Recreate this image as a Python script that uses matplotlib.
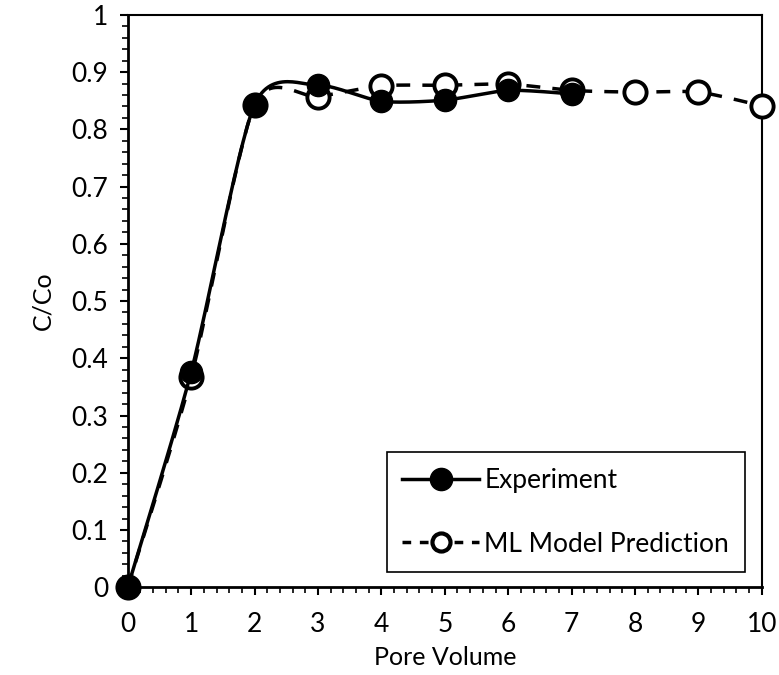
import numpy as np
import matplotlib
matplotlib.use("Agg")
import matplotlib.pyplot as plt
from matplotlib.ticker import MultipleLocator

# data
pv_exp = [0, 1, 2, 3, 4, 5, 6, 7]
c_exp = [0, 0.376, 0.843, 0.877, 0.849, 0.851, 0.868, 0.862]

pv_ml = [0, 1, 2, 3, 4, 5, 6, 7, 8, 9, 10]
c_ml = [0, 0.367, 0.843, 0.857, 0.876, 0.877, 0.879, 0.868, 0.865, 0.865, 0.841]


def smooth(x, y, k=1/8, n=30):
    # excel-like smoothed line (cardinal bezier through the points)
    x = np.asarray(x, float)
    y = np.asarray(y, float)
    xs, ys = [x[0]], [y[0]]
    for i in range(len(x) - 1):
        p0 = np.array([x[max(i - 1, 0)], y[max(i - 1, 0)]])
        p1 = np.array([x[i], y[i]])
        p2 = np.array([x[i + 1], y[i + 1]])
        p3 = np.array([x[min(i + 2, len(x) - 1)], y[min(i + 2, len(x) - 1)]])
        c1 = p1 + (p2 - p0) * k
        c2 = p2 - (p3 - p1) * k
        t = np.linspace(0, 1, n)[1:, None]
        b = ((1 - t) ** 3) * p1 + 3 * ((1 - t) ** 2) * t * c1 + 3 * (1 - t) * t ** 2 * c2 + t ** 3 * p2
        xs.extend(b[:, 0])
        ys.extend(b[:, 1])
    return np.array(xs), np.array(ys)


plt.rcParams['font.family'] = ['Lato', 'DejaVu Sans']

fig = plt.figure(figsize=(7.79, 6.75), dpi=100)
ax = fig.add_axes([0.164, 0.130, 0.814, 0.848])

sx, sy = smooth(pv_ml, c_ml)
ax.plot(sx, sy, color='black', lw=2.5, ls=(0, (4, 3.5)), zorder=2)
ax.plot(pv_ml, c_ml, ls='none', marker='o', ms=16, mfc='white', mec='black', mew=2.8,
        zorder=3, clip_on=False)

sx, sy = smooth(pv_exp, c_exp)
ax.plot(sx, sy, color='black', lw=2.5, zorder=4)
ax.plot(pv_exp, c_exp, ls='none', marker='o', ms=16, mfc='black', mec='black', mew=1,
        zorder=5, clip_on=False)

# legend proxies
h1, = ax.plot([], [], color='black', lw=2.5, marker='o', ms=16, mfc='black', mec='black')
h2, = ax.plot([], [], color='black', lw=2.5, ls=(0, (2.5, 2.5)), marker='o', ms=13,
              mfc='white', mec='black', mew=3)
leg = ax.legend([h1, h2], ['Experiment', 'ML Model Prediction'], loc='lower right',
                bbox_to_anchor=(0.973, 0.026), borderaxespad=0, fontsize=19,
                handlelength=2.9, handletextpad=0.2, labelspacing=1.45, borderpad=0.6,
                fancybox=False, framealpha=1, edgecolor='black')
leg.get_frame().set_linewidth(1.2)
leg.set_zorder(10)

ax.set_xlim(0, 10)
ax.set_ylim(0, 1)
ax.xaxis.set_major_locator(MultipleLocator(1))
ax.xaxis.set_minor_locator(MultipleLocator(0.2))
ax.yaxis.set_major_locator(MultipleLocator(0.1))
ax.yaxis.set_minor_locator(MultipleLocator(0.02))
ax.set_yticks(np.arange(0, 1.01, 0.1))
ax.set_yticklabels(['0', '0.1', '0.2', '0.3', '0.4', '0.5', '0.6', '0.7', '0.8', '0.9', '1'])

ax.tick_params(which='major', direction='out', length=6, width=1.5, labelsize=19, pad=8)
ax.tick_params(axis='x', which='major', pad=12)
ax.tick_params(which='minor', direction='out', length=4, width=1.2)
ax.tick_params(top=False, right=False, which='both')

ax.spines['left'].set_linewidth(2)
ax.spines['bottom'].set_linewidth(2)
ax.spines['top'].set_linewidth(1.5)
ax.spines['right'].set_linewidth(1.5)

ax.set_xlabel('Pore Volume', fontsize=18, labelpad=6)
ax.set_ylabel('C/Co', fontsize=18, labelpad=12)

fig.savefig('out.png', dpi=100)
